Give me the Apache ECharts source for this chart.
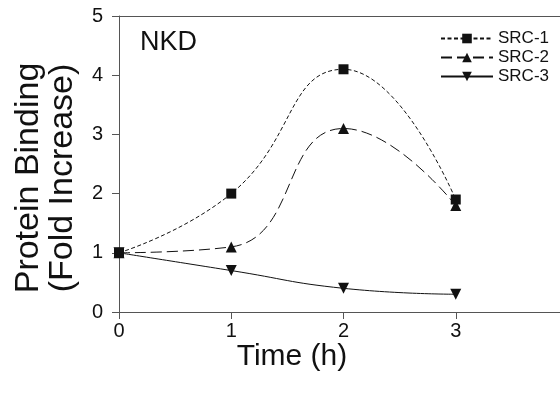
<!DOCTYPE html>
<html>
<head>
<meta charset="utf-8">
<script src="https://cdn.jsdelivr.net/npm/echarts@6/dist/echarts.min.js"></script>
<style>
  html, body { margin: 0; padding: 0; background: #fff; }
  #chart { width: 560px; height: 400px; }
</style>
</head>
<body>
<div id="chart"></div>
<script>
// Time points (h)
const timePoints = [0, 1, 2, 3];
// Protein binding, fold increase over baseline
const src1 = [1.0, 2.0, 4.1, 1.9];
const src2 = [1.0, 1.1, 3.1, 1.8];
const src3 = [1.0, 0.7, 0.4, 0.3];
const seriesNames = ['SRC-1', 'SRC-2', 'SRC-3'];
const yTicks = [0, 1, 2, 3, 4, 5];
const xTicks = [0, 1, 2, 3, 4];

const FONT = 'Liberation Sans, Arial, Helvetica, sans-serif';
const AXIS_COLOR = '#555';
const INK = '#111';

function pairs(ys) {
  return timePoints.map((t, i) => [t, ys[i]]);
}

const chart = echarts.init(document.getElementById('chart'), null, { renderer: 'canvas' });

const baseSeries = {
  type: 'line',
  smooth: 0.5,
  showAllSymbol: true,
  color: INK,
  z: 3
};

function titleText(text, x, y, size, rotate) {
  return {
    type: 'text',
    x: x,
    y: y,
    rotation: rotate ? Math.PI / 2 : 0,
    style: {
      text: text,
      font: size + 'px ' + FONT,
      fill: INK,
      align: 'center',
      verticalAlign: 'middle'
    }
  };
}

chart.setOption({
  animation: false,
  backgroundColor: '#fff',
  textStyle: { fontFamily: FONT },
  title: {
    text: 'NKD',
    left: 140,
    top: 29,
    padding: 0,
    textStyle: { fontFamily: FONT, fontSize: 27, fontWeight: 'normal', color: INK }
  },
  legend: {
    orient: 'vertical',
    left: 440,
    top: 30,
    itemWidth: 52,
    itemHeight: 12,
    itemGap: 2,
    padding: 0,
    textStyle: { fontFamily: FONT, fontSize: 17, color: INK },
    data: seriesNames
  },
  graphic: [
    titleText('Protein Binding', 29, 178, 34, true),
    titleText('(Fold Increase)', 63, 178, 34, true),
    titleText('Time (h)', 292, 357, 30, false)
  ],
  grid: { left: 119, top: 16, width: 449, height: 296, outerBoundsMode: 'none' },
  xAxis: [
    {
      type: 'value',
      min: xTicks[0],
      max: xTicks[xTicks.length - 1],
      interval: 1,
      axisLine: { show: true, lineStyle: { color: AXIS_COLOR, width: 1 } },
      axisTick: { show: true, inside: false, length: 7, lineStyle: { color: AXIS_COLOR } },
      axisLabel: { fontFamily: FONT, fontSize: 20, color: INK, margin: 9 },
      splitLine: { show: false }
    },
    {
      type: 'value',
      position: 'top',
      min: xTicks[0],
      max: xTicks[xTicks.length - 1],
      axisLine: { show: true, lineStyle: { color: AXIS_COLOR, width: 1 } },
      axisTick: { show: false },
      axisLabel: { show: false },
      splitLine: { show: false }
    }
  ],
  yAxis: {
    type: 'value',
    min: yTicks[0],
    max: yTicks[yTicks.length - 1],
    interval: 1,
    axisLine: { show: true, lineStyle: { color: AXIS_COLOR, width: 1 } },
    axisTick: { show: true, inside: false, length: 7, lineStyle: { color: AXIS_COLOR } },
    axisLabel: { fontFamily: FONT, fontSize: 20, color: INK, margin: 16 },
    splitLine: { show: false }
  },
  series: [
    Object.assign({}, baseSeries, {
      name: seriesNames[0],
      data: pairs(src1),
      symbol: 'rect',
      symbolSize: 10,
      lineStyle: { color: INK, width: 1, type: [4, 2.5] },
      itemStyle: { color: INK }
    }),
    Object.assign({}, baseSeries, {
      name: seriesNames[1],
      data: pairs(src2),
      symbol: 'triangle',
      symbolSize: 11,
      lineStyle: { color: INK, width: 1, type: [11, 5] },
      itemStyle: { color: INK }
    }),
    Object.assign({}, baseSeries, {
      name: seriesNames[2],
      data: pairs(src3),
      symbol: 'triangle',
      symbolRotate: 180,
      symbolSize: 11,
      lineStyle: { color: INK, width: 1, type: 'solid' },
      itemStyle: { color: INK }
    })
  ]
});
</script>
</body>
</html>
